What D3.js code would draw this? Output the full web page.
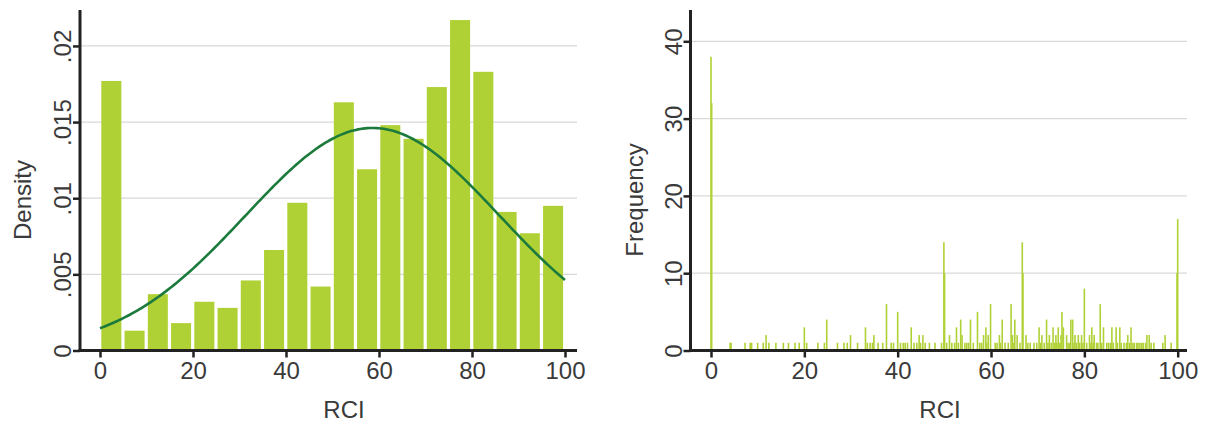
<!DOCTYPE html>
<html>
<head>
<meta charset="utf-8">
<script src="https://cdn.jsdelivr.net/npm/d3@7"></script>
<style>
  html, body { margin: 0; padding: 0; background: #fff; }
  svg { display: block; }
  text { font-family: "Liberation Sans", Arial, Helvetica, sans-serif; fill: #3a3a3a; }
</style>
</head>
<body>
<svg id="chart" width="1213" height="426"></svg>
<script>
// left panel: density histogram, 20 bins of width 5
let binStarts = [0, 5, 10, 15, 20, 25, 30, 35, 40, 45, 50, 55, 60, 65, 70, 75, 80, 85, 90, 95];
let binWidth = 5;
let densities = [0.0177, 0.0013, 0.0037, 0.0018, 0.0032, 0.0028, 0.0046, 0.0066, 0.0097, 0.0042,
                 0.0163, 0.0119, 0.0148, 0.0139, 0.0173, 0.0217, 0.0183, 0.0091, 0.0077, 0.0095];
let normalMean = 58.6;
let normalSd = 27.3;
let densityTicks = [0, 0.005, 0.01, 0.015, 0.02];
let densityTickLabels = ["0", ".005", ".01", ".015", ".02"];

// right panel: frequency of each RCI value
let freqValues = [
  [0, 38], [0.15, 32], [11.8, 2], [20, 3], [24.8, 4], [29.9, 2], [33.1, 3], [34.9, 2], [37.6, 6],
  [40, 5], [42.9, 3], [44.6, 2], [45.4, 2], [49.9, 14], [50.05, 10], [51.1, 2], [52.6, 3], [53.5, 4],
  [53.8, 2], [55.6, 4], [57.1, 5], [58.4, 2], [58.9, 3], [59.4, 2], [59.9, 6], [61.8, 2], [62.4, 4],
  [64.3, 6], [64.6, 2], [65.1, 4], [65.6, 2], [66.7, 14], [66.85, 10], [67.5, 2], [70.3, 3], [70.9, 2],
  [71.9, 4], [72.5, 2], [73.3, 3], [73.9, 2], [74.4, 3], [75, 2], [75.2, 5], [75.5, 3], [76.2, 2],
  [77.1, 4], [77.5, 4], [78, 2], [78.7, 2], [79.4, 2], [80, 8], [81.1, 2], [81.6, 3], [82.1, 2],
  [83.4, 6], [84.1, 3], [85.9, 3], [86.8, 3], [87.6, 3], [89.3, 2], [90, 3], [93.4, 2], [93.9, 2],
  [97.3, 2], [99.85, 10], [100, 17]
];
// values seen only once
let freqOnes = [4.1, 4.3, 7.3, 8.4, 8.7, 10, 11.2, 12.4, 13.9, 15.5, 16.6, 18, 18.9, 20.5, 22.9, 24.3,
  27.1, 28.5, 29.2, 31.4, 33.5, 34.1, 34.6, 35.8, 36.8, 38.6, 39.1, 40.6, 41.2, 41.6, 42.1, 43.5,
  44.1, 44.9, 45.9, 46.8, 48, 49.4, 50.5, 51.6, 52.2, 53, 54.4, 54.8, 55.2, 56.2, 57.6, 58, 59.1,
  60.9, 61.3, 62, 63, 63.7, 64.9, 66.2, 67.9, 68.4, 69.2, 69.8, 70.6, 71.4, 72.2, 72.9, 73.6, 74.1,
  74.7, 76.5, 76.8, 77.8, 78.3, 79, 79.7, 80.5, 81.4, 81.9, 82.6, 82.9, 83.7, 84.8, 85.2, 85.6,
  86.2, 87.1, 87.9, 88.5, 89, 89.7, 90.4, 90.7, 91.2, 91.5, 91.9, 92.3, 92.6, 93.1, 94.3, 94.9,
  96.8, 98.6];
let freqTicks = [0, 10, 20, 30, 40];

let rciTicks = [0, 20, 40, 60, 80, 100];

let barColor = "#b0d136";
let curveColor = "#1b7a3c";
let gridColor = "#d9d9d9";
let axisColor = "#222";

let svg = d3.select("#chart");

function drawGrid(g, yScale, yTicks, left, right) {
  g.append("g").selectAll("line").data(yTicks.slice(1)).join("line")
    .attr("x1", left).attr("x2", right)
    .attr("y1", d => yScale(d)).attr("y2", d => yScale(d))
    .attr("stroke", gridColor).attr("stroke-width", 1.2);
}

function drawAxes(g, xScale, yScale, yTicks, yLabels, yTitle, left, right, titleX, titleCx) {
  let y0 = yScale.range()[0];

  /* ========== X AXIS ========== */
  let xAxis = d3.axisBottom(xScale).tickValues(rciTicks).tickSize(7).tickPadding(4);
  let xg = g.append("g").attr("transform", "translate(0," + y0 + ")").call(xAxis);
  xg.select(".domain").remove();
  xg.selectAll(".tick line").attr("stroke", axisColor).attr("stroke-width", 2.5);
  xg.selectAll(".tick text").style("font-size", "24px").attr("fill", null)
    .attr("font-family", null).attr("dy", "0.74em");
  g.append("line").attr("x1", left - 1.5).attr("x2", right).attr("y1", y0).attr("y2", y0)
    .attr("stroke", axisColor).attr("stroke-width", 3);

  /* ========== Y AXIS ========== */
  let yAxis = d3.axisLeft(yScale).tickValues(yTicks).tickSize(7).tickFormat((d, i) => yLabels[i]);
  let yg = g.append("g").attr("transform", "translate(" + left + ",0)").call(yAxis);
  yg.select(".domain").remove();
  yg.selectAll(".tick line").attr("stroke", axisColor).attr("stroke-width", 2.5);
  yg.selectAll(".tick text").style("font-size", "24px").attr("fill", null)
    .attr("font-family", null)
    .attr("x", null).attr("dy", null)
    .attr("text-anchor", "middle")
    .attr("transform", "translate(-9,0) rotate(-90)");
  g.append("line").attr("x1", left).attr("x2", left).attr("y1", 10).attr("y2", y0 + 1.5)
    .attr("stroke", axisColor).attr("stroke-width", 3);

  /* ========== TITLES ========== */
  g.append("text")
    .attr("transform", "translate(" + titleX + ",200) rotate(-90)")
    .attr("text-anchor", "middle")
    .style("font-size", "24px")
    .text(yTitle);
  g.append("text")
    .attr("x", titleCx).attr("y", 418)
    .attr("text-anchor", "middle")
    .style("font-size", "24px")
    .text("RCI");
}

/* ========== LEFT PANEL ========== */
let xL = d3.scaleLinear().domain([0, 100]).range([100, 565]);
let yL = d3.scaleLinear().domain([0, 0.02236]).range([350.5, 10]);
let gL = svg.append("g");

drawGrid(gL, yL, densityTicks, 80, 577);

gL.append("g").selectAll("rect").data(densities).join("rect")
  .attr("x", (d, i) => xL(binStarts[i]) + 1.3)
  .attr("width", (d, i) => xL(binStarts[i] + binWidth) - xL(binStarts[i]) - 3.2)
  .attr("y", d => yL(d))
  .attr("height", d => yL(0) - yL(d))
  .attr("fill", barColor);

let curveXs = d3.range(0, 100.01, 0.5);
let normalLine = d3.line()
  .x(d => xL(d))
  .y(d => yL(Math.exp(-0.5 * Math.pow((d - normalMean) / normalSd, 2)) / (normalSd * Math.sqrt(2 * Math.PI))));
gL.append("path")
  .attr("d", normalLine(curveXs))
  .attr("fill", "none")
  .attr("stroke", curveColor)
  .attr("stroke-width", 2.6);

drawAxes(gL, xL, yL, densityTicks, densityTickLabels, "Density", 80, 577, 31, 344);

/* ========== RIGHT PANEL ========== */
let xR = d3.scaleLinear().domain([0, 100]).range([711, 1177.7]);
let yR = d3.scaleLinear().domain([0, 44.05]).range([350.5, 10]);
let gR = svg.append("g");

drawGrid(gR, yR, freqTicks, 690.5, 1187);

let freqAll = freqValues.concat(freqOnes.map(v => [v, 1]));
gR.append("g").selectAll("rect").data(freqAll).join("rect")
  .attr("x", d => xR(d[0]) - 0.8)
  .attr("width", 1.6)
  .attr("y", d => yR(d[1]))
  .attr("height", d => yR(0) - yR(d[1]))
  .attr("fill", barColor);

drawAxes(gR, xR, yR, freqTicks, freqTicks.map(String), "Frequency", 690.5, 1187, 643, 940);
</script>
</body>
</html>
